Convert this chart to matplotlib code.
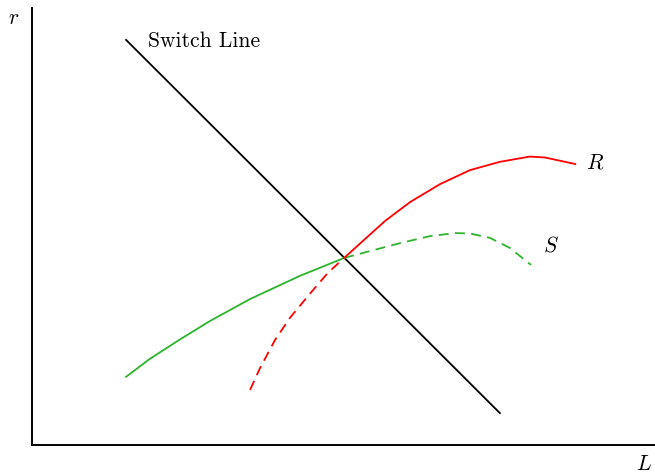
import matplotlib.pyplot as plt

plt.rcParams['mathtext.fontset'] = 'cm'
plt.rcParams['font.family'] = ['cmr10', 'DejaVu Serif']
plt.rcParams['axes.unicode_minus'] = False

# switch line end points
switch_L = [1.51, 7.51]
switch_r = [9.27, 0.73]

# S curve: solid before the switch, dashed after
s_solid_L = [1.51, 1.89, 2.38, 2.86, 3.50, 4.30, 5.01]
s_solid_r = [1.56, 1.97, 2.42, 2.84, 3.34, 3.87, 4.28]
s_dash_L = [5.01, 5.43, 5.91, 6.39, 6.79, 7.03, 7.35, 7.67, 8.01]
s_dash_r = [4.28, 4.44, 4.62, 4.78, 4.85, 4.84, 4.74, 4.51, 4.12]

# R curve: dashed before the switch, solid after
r_dash_L = [3.50, 3.66, 3.90, 4.14, 4.46, 4.75, 5.01]
r_dash_r = [1.26, 1.76, 2.40, 2.91, 3.46, 3.94, 4.28]
r_solid_L = [5.01, 5.35, 5.67, 6.07, 6.55, 7.03, 7.51, 7.99, 8.23, 8.72]
r_solid_r = [4.28, 4.72, 5.13, 5.56, 5.97, 6.29, 6.48, 6.60, 6.58, 6.43]

green = '#2db42d'
lw = 1.3

fig = plt.figure(figsize=(6.55, 4.74), dpi=100)
ax = fig.add_axes([32 / 655, 29 / 474, 623 / 655, 437 / 474])
ax.set_xlim(0, 10)
ax.set_ylim(0, 10)

ax.plot(switch_L, switch_r, color='black', lw=lw)
ax.plot(s_solid_L, s_solid_r, color=green, lw=lw)
ax.plot(s_dash_L, s_dash_r, color=green, lw=lw, dashes=(5.5, 3.5))
ax.plot(r_dash_L, r_dash_r, color='red', lw=lw, dashes=(5.5, 3.5))
ax.plot(r_solid_L, r_solid_r, color='red', lw=lw)

ax.text(1.86, 9.23, 'Switch Line', fontsize=15.5, va='center', ha='left')
ax.text(8.9, 6.45, r'$R$', fontsize=15.5, va='center', ha='left')
ax.text(8.2, 4.57, r'$S$', fontsize=15.5, va='center', ha='left')

# axis labels sit outside the spines
fig.text(14 / 655, 1 - 18 / 474, r'$r$', fontsize=15.5, ha='center', va='center')
fig.text(644 / 655, 1 - 464 / 474, r'$L$', fontsize=15.5, ha='center', va='center')

for side in ['top', 'right']:
    ax.spines[side].set_visible(False)
for side in ['left', 'bottom']:
    ax.spines[side].set_linewidth(1.4)
ax.set_xticks([])
ax.set_yticks([])

fig.savefig('out.png', dpi=100)
